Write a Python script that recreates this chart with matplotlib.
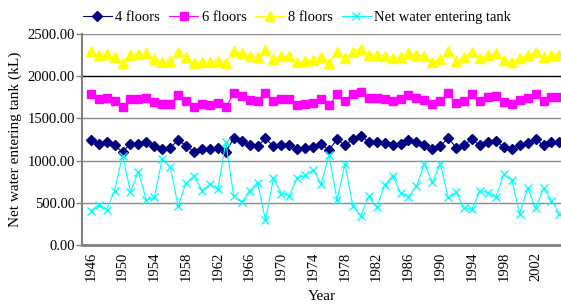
import matplotlib
matplotlib.use("Agg")
import matplotlib.pyplot as plt

years = list(range(1946, 2006))

floors4 = [1250, 1202, 1218, 1182, 1103, 1202, 1202, 1222, 1178, 1139,
           1151, 1242, 1178, 1103, 1139, 1135, 1155, 1103, 1262, 1234,
           1182, 1174, 1262, 1170, 1190, 1190, 1135, 1151, 1160, 1195,
           1123, 1255, 1180, 1255, 1293, 1221, 1221, 1203, 1180, 1197,
           1240, 1221, 1183, 1138, 1170, 1270, 1153, 1183, 1253, 1180,
           1217, 1233, 1163, 1135, 1183, 1209, 1253, 1180, 1215, 1215]

floors6 = [1786, 1734, 1746, 1706, 1631, 1726, 1734, 1746, 1694, 1667,
           1675, 1774, 1706, 1631, 1667, 1655, 1686, 1631, 1797, 1770,
           1718, 1706, 1797, 1706, 1726, 1726, 1659, 1675, 1686, 1726,
           1655, 1786, 1706, 1786, 1817, 1746, 1746, 1734, 1706, 1726,
           1774, 1746, 1718, 1669, 1706, 1797, 1678, 1706, 1786, 1710,
           1750, 1770, 1698, 1667, 1714, 1738, 1790, 1710, 1750, 1750]

floors8 = [2293, 2246, 2262, 2222, 2151, 2246, 2262, 2270, 2202, 2171,
           2186, 2282, 2226, 2151, 2167, 2167, 2186, 2151, 2293, 2274,
           2234, 2222, 2313, 2202, 2234, 2234, 2167, 2182, 2190, 2226,
           2155, 2286, 2214, 2286, 2325, 2254, 2254, 2242, 2214, 2222,
           2274, 2254, 2234, 2174, 2202, 2293, 2182, 2222, 2286, 2214,
           2254, 2274, 2194, 2167, 2214, 2246, 2286, 2222, 2254, 2254]

net_water = [405, 478, 420, 642, 1058, 632, 870, 530, 565, 1018,
             928, 465, 733, 818, 645, 720, 660, 1220, 580, 504,
             645, 740, 295, 790, 610, 585, 795, 825, 892, 725,
             1063, 534, 958, 460, 346, 575, 446, 710, 820, 622,
             572, 695, 958, 745, 964, 566, 625, 436, 427, 645,
             621, 566, 838, 775, 370, 675, 436, 675, 526, 370]

xtick_years = list(range(1946, 2006, 4))
yticks = [0, 500, 1000, 1500, 2000, 2500]

plt.rcParams['font.family'] = ['Liberation Serif', 'DejaVu Serif']

fig = plt.figure(figsize=(5.61, 3.07), dpi=100)
ax = fig.add_axes([82/561, 1 - 245/307, 1 - 82/561, (245 - 34)/307])

for y in yticks[1:]:
    ax.axhline(y, color='black' if y == 2000 else '#8c8c8c', lw=1.0, zorder=0)

ax.plot(years, floors4, color='#000080', lw=0.8, marker='D', ms=5,
        mfc='#000080', mec='#000080', label='4 floors')
ax.plot(years, floors6, color='#FF00FF', lw=0.8, marker='s', ms=5.5,
        mfc='#FF00FF', mec='#FF00FF', label='6 floors')
ax.plot(years, floors8, color='#FFFF00', lw=0.8, marker='^', ms=6.5,
        mfc='#FFFF00', mec='#FFFF00', label='8 floors')
ax.plot(years, net_water, color='#00FFFF', lw=0.8, marker='x', ms=6,
        mew=1.0, label='Net water entering tank')

ax.set_xlim(1944.9, 2005.2)
ax.set_ylim(0, 2500)
ax.set_yticks(yticks)
ax.set_yticklabels([f"{v:.2f}" for v in yticks])
ax.set_xticks(xtick_years)
ax.set_xticklabels([str(y) for y in xtick_years], rotation=90)
ax.tick_params(axis='x', length=0, pad=5, labelsize=10.5)
ax.tick_params(axis='y', length=4, width=1, color='#808080', pad=1, labelsize=10.5)

for s in ['top', 'right']:
    ax.spines[s].set_visible(False)
ax.spines['left'].set_color('#808080')
ax.spines['left'].set_linewidth(1.5)
ax.spines['bottom'].set_color('#808080')
ax.spines['bottom'].set_linewidth(2)

ax.set_xlabel('Year', fontsize=11, labelpad=6)
ax.set_ylabel('Net water entering tank (kL)', fontsize=11)
ax.yaxis.set_label_coords(-0.125, 0.5)

fig.legend(loc='center', bbox_to_anchor=(297/561, 1 - 17/307), ncol=4,
           frameon=False, fontsize=10.5, handlelength=2.0, columnspacing=0.6,
           handletextpad=0.25, borderaxespad=0, borderpad=0)

fig.savefig('out.png', dpi=100)
